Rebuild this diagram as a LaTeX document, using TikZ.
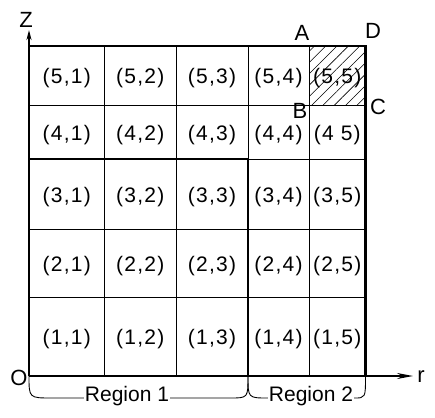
\documentclass[tikz,border=0pt]{standalone}
\usepackage{fontspec}
\setmainfont{Liberation Sans}
\newfontfamily\cellfont[LetterSpace=6]{Liberation Sans}
\usetikzlibrary{arrows.meta,patterns.meta}
\begin{document}
\begin{tikzpicture}[x=1pt,y=-1pt,
  thin line/.style={line width=0.9pt},
  thick line/.style={line width=2.2pt},
  cell/.style={font=\cellfont\fontsize{21}{24}\selectfont, inner sep=0pt},
  lab/.style={font=\fontsize{22}{26}\selectfont, inner sep=0pt},
  reg/.style={font=\fontsize{21}{24}\selectfont, inner sep=1pt}]
\useasboundingbox (0,0) rectangle (435,417);
% column and row positions
\def\xa{29}\def\xb{104.5}\def\xc{176}\def\xd{248}\def\xe{309}\def\xf{365.5}
\def\ya{46}\def\yb{105}\def\yc{159}\def\yd{229}\def\ye{297}\def\yf{376}
% hatched cell
\fill[pattern={Lines[angle=45,distance=8pt,line width=0.6pt]}] (\xe,\ya) rectangle (\xf,\yb);
% thin grid
\foreach \x in {\xb,\xc,\xe} \draw[thin line] (\x,\ya) -- (\x,\yf);
\draw[thin line] (\xd,\ya) -- (\xd,\yc);
\foreach \y in {\yb,\yd,\ye} \draw[thin line] (\xa,\y) -- (\xf,\y);
\draw[thin line] (\xd,\yc) -- (\xf,\yc);
% thick lines
\draw[thick line] (\xa,\yc) -- (\xd,\yc) -- (\xd,\yf);
\draw[thick line] (\xa,\ya) -- (\xf,\ya) -- (\xf,\yf);
\draw[thin line] (\xe,\yb) -- (\xf,\yb);
% axes
\coordinate (O) at (\xa,\yf);
\coordinate (ztip) at (\xa,30);
\coordinate (rtip) at (413,\yf);
\draw[line width=1.6pt,-{Stealth[length=10pt,width=5pt]}] (O) -- (ztip);
\draw[line width=1.6pt,-{Stealth[length=16pt,width=6pt]}] (O) -- (rtip);
\node[lab] (Z) at (26,20) {Z};
\node[lab] (r) at (421,377) {r};
\node[lab] (Olab) at (19,378) {O};
\node[lab] (A) at (302,33) {A};
\node[lab] (D) at (373,31) {D};
\node[lab] (B) at (300,111) {B};
\node[lab] (C) at (378,107) {C};
% cell labels
\foreach \r/\yy/\yyy in {5/\ya/\yb,4/\yb/\yc,3/\yc/\yd,2/\yd/\ye,1/\ye/\yf}{
  \foreach \c/\xx/\xxx in {1/\xa/\xb,2/\xb/\xc,3/\xc/\xd,4/\xd/\xe,5/\xe/\xf}{
    \node[cell] (c\r\c) at ({(\xx+\xxx)/2},{(\yy+\yyy)/2+3}) {\ifnum\r\c=45 (4 5)\else(\r,\c)\fi};
  }
}
% braces
\node[reg] (R1) at (127,396) {Region 1};
\node[reg] (R2) at (311,396) {Region 2};
\coordinate (b1a) at (\xa,\yf);
\coordinate (b1b) at (\xd,\yf);
\coordinate (b2b) at (\xf,\yf);
\draw[line width=0.9pt] (b1a) .. controls (\xa,398) .. (52,398) -- (R1.west |- 0,398);
\draw[line width=0.9pt] (R1.east |- 0,398) -- (230,398) .. controls (\xd,398) .. (b1b);
\draw[line width=0.9pt] (b1b) .. controls (\xd,398) .. (R2.west |- 0,398);
\draw[line width=0.9pt] (R2.east |- 0,398) .. controls (\xf,398) .. (b2b);
\end{tikzpicture}
\end{document}
